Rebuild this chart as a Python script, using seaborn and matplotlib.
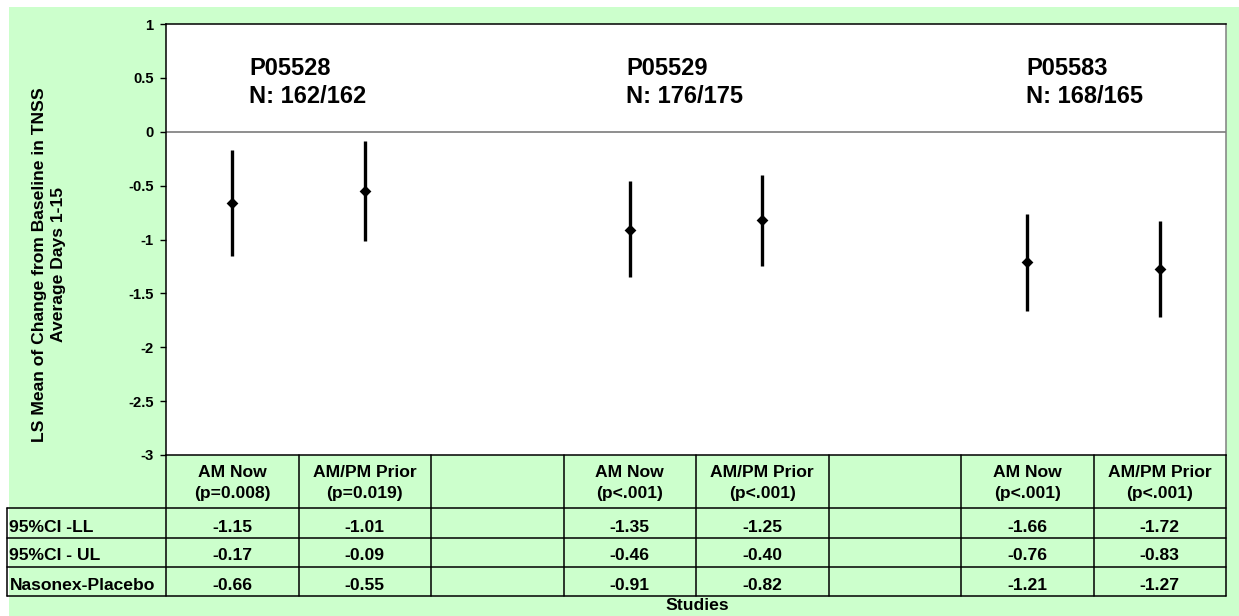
import matplotlib
matplotlib.use("Agg")
import matplotlib.pyplot as plt
from matplotlib.patches import Rectangle
import seaborn as sns
import pandas as pd

# Study labels and sample sizes
studies = ["P05528", "P05529", "P05583"]
n_labels = ["N: 162/162", "N: 176/175", "N: 168/165"]

# Treatment regimens per study with their p-values
arms = ["AM Now", "AM/PM Prior"]
p_values = ["(p=0.008)", "(p=0.019)",
            "(p<.001)", "(p<.001)",
            "(p<.001)", "(p<.001)"]

# Nasonex minus placebo difference and 95% CI bounds
ci_lower = [-1.15, -1.01, -1.35, -1.25, -1.66, -1.72]
ci_upper = [-0.17, -0.09, -0.46, -0.40, -0.76, -0.83]
diff = [-0.66, -0.55, -0.91, -0.82, -1.21, -1.27]
row_labels = ["95%CI -LL", "95%CI - UL", "Nasonex-Placebo"]

y_ticks = [1, 0.5, 0, -0.5, -1, -1.5, -2, -2.5, -3]

sns.set_theme(style="white")
plt.rcParams["font.family"] = ["Liberation Sans", "DejaVu Sans"]
plt.rcParams["font.weight"] = "bold"
plt.rcParams["axes.unicode_minus"] = False
for key in ["text.color", "axes.labelcolor", "xtick.color", "ytick.color"]:
    plt.rcParams[key] = "black"

W, H = 1239, 616
GREEN = "#CCFFCC"
TABLE_FS = 12.6
fig = plt.figure(figsize=(W / 100, H / 100), dpi=100)
fig.patch.set_facecolor("white")
fig.patches.append(Rectangle((9 / W, 0), 1, 1 - 7 / H, transform=fig.transFigure,
                             facecolor=GREEN, edgecolor="none", zorder=-10))

# Plot area (pixel box 166..1226 x 24..455)
ax = fig.add_axes([166 / W, 1 - 455 / H, (1226 - 166) / W, (455 - 24) / H])
ax.set_facecolor("white")

# Eight slots: two arms per study plus a gap column between studies
n_slots = len(studies) * 3 - 1
positions = [s * 3 + a for s in range(len(studies)) for a in range(len(arms))]
df = pd.DataFrame({"pos": positions, "diff": diff, "lo": ci_lower, "hi": ci_upper})

ax.vlines(df["pos"], df["lo"], df["hi"], color="black", linewidth=2.4, zorder=2)
sns.scatterplot(data=df, x="pos", y="diff", marker="D", s=36, color="black",
                edgecolor="black", linewidth=0, ax=ax, zorder=3, legend=False)

ax.axhline(0, color="#707070", linewidth=1.1, zorder=1)
ax.set_xlim(-0.5, n_slots - 0.5)
ax.set_ylim(-3, 1)
ax.set_yticks(y_ticks)
ax.set_yticklabels([f"{v:g}" for v in y_ticks], fontsize=10.6, fontweight="bold")
ax.set_xticks([])
ax.set_xlabel("")
ax.set_ylabel("")
ax.tick_params(axis="y", direction="out", length=4, width=1, color="black", pad=5, left=True)
for side in ["left", "top", "bottom"]:
    ax.spines[side].set_color("black")
    ax.spines[side].set_linewidth(1.1)
ax.spines["right"].set_color("#808080")
ax.spines["right"].set_linewidth(1.1)

# Study headers inside the plot area
slot_w = (1226 - 166) / n_slots
def px_to_x(px):
    return (px - 166) / slot_w - 0.5

def py_to_y(py):
    return (132 - py) / 108

study_left = [249, 626, 1026]
for name, n, left in zip(studies, n_labels, study_left):
    ax.text(px_to_x(left), py_to_y(75), name, fontsize=17, fontweight="bold",
            ha="left", va="baseline")
    ax.text(px_to_x(left), py_to_y(103), n, fontsize=17, fontweight="bold",
            ha="left", va="baseline")

# Y-axis title
fig.text(49 / W, 1 - 265 / H,
         "LS Mean of Change from Baseline in TNSS\nAverage Days 1-15",
         rotation=90, ha="center", va="center", fontsize=12.6,
         fontweight="bold", linespacing=1.4)

# Data table under the axis
tr = ax.get_xaxis_transform()
def fy(py):
    return (455 - py) / (455 - 24)

row_edges = [455, 508, 537.7, 566.7, 595.7]
row_baselines = [531.5, 560.5, 589.5]
x_left = px_to_x(7)
x_start = -0.5
x_end = n_slots - 0.5
line_kw = dict(color="black", linewidth=1.1, transform=tr, clip_on=False, zorder=5)

for py in row_edges[1:]:
    ax.plot([x_left, x_end], [fy(py), fy(py)], **line_kw)
ax.plot([x_left, x_left], [fy(row_edges[1]), fy(row_edges[-1])], **line_kw)
for k in range(n_slots + 1):
    xb = x_start + k
    ax.plot([xb, xb], [fy(row_edges[0]), fy(row_edges[-1])], **line_kw)

txt_kw = dict(transform=tr, va="baseline", fontsize=TABLE_FS, fontweight="bold",
              clip_on=False)
table_rows = [ci_lower, ci_upper, diff]
for i, pos in enumerate(positions):
    ax.text(pos, fy(477), arms[i % 2], ha="center", **txt_kw)
    ax.text(pos, fy(498), p_values[i], ha="center", **txt_kw)
    for r, vals in enumerate(table_rows):
        ax.text(pos, fy(row_baselines[r]), f"{vals[i]:.2f}", ha="center", **txt_kw)

for r, label in enumerate(row_labels):
    ax.text(px_to_x(9.5), fy(row_baselines[r]), label, ha="left", **txt_kw)

fig.text(697 / W, 1 - 610 / H, "Studies", ha="center", va="baseline",
         fontsize=TABLE_FS, fontweight="bold")

fig.savefig("out.png", dpi=100, facecolor=fig.get_facecolor())
